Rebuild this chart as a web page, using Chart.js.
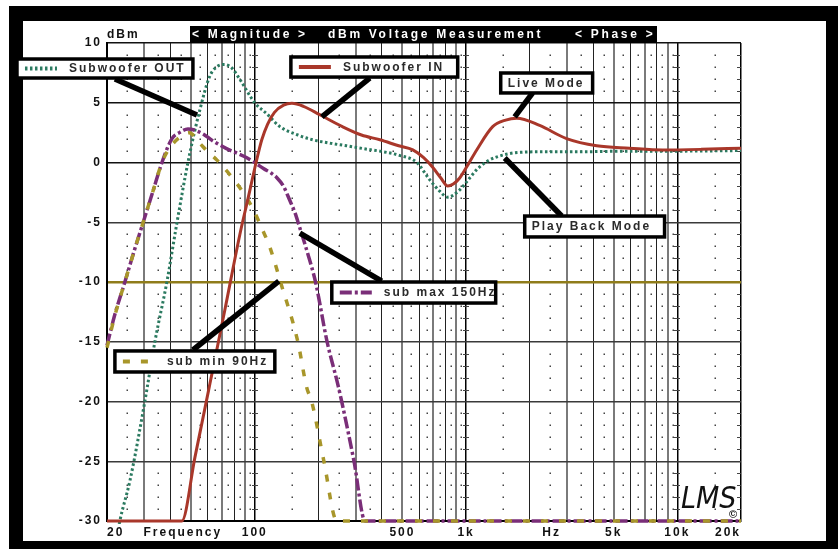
<!DOCTYPE html>
<html>
<head>
<meta charset="utf-8">
<title>dBm Voltage Measurement</title>
<script src="https://cdn.jsdelivr.net/npm/chart.js@4.4.1/dist/chart.umd.min.js"></script>
<style>
    body { margin: 0; background: #fff; }
    #frame { position: absolute; left: 9px; top: 6px; width: 829px; height: 543px; background: #000; }
    #paper { position: absolute; left: 14px; top: 15px; width: 803px; height: 520px; background: #fff; }
    #wrap { position: absolute; left: 0; top: 0; width: 838px; height: 549px; }
</style>
</head>
<body>
<div id="frame"><div id="paper"></div></div>
<div id="wrap"><canvas id="LmsChart"></canvas></div>
<script>
// sweep results, frequency in Hz / level in dBm
var out_freq = [22.2, 23, 25.7, 30.2, 33.7, 38.4, 42.9, 48.3, 55, 61.2, 66, 72, 78, 85.4, 100, 113.7, 131.6, 160, 188, 230, 272, 330, 391, 483, 585, 670, 750, 819, 933, 1030, 1123, 1260, 1389, 1791, 2500, 3471, 6000, 10000, 20000];
var out_db = [-31.5, -30, -26.6, -20, -15, -10, -5, 0, 4.4, 7.2, 8.0, 8.2, 7.9, 6.9, 5.0, 4.1, 3.0, 2.3, 1.9, 1.6, 1.4, 1.15, 0.95, 0.6, 0.0, -1.4, -2.4, -2.9, -2.3, -1.4, -0.6, 0.1, 0.45, 0.85, 0.9, 0.9, 0.95, 0.95, 1.0];

var in_freq = [20, 45.2, 52.1, 61.4, 72.3, 85.1, 93, 101.5, 108, 115, 124, 137, 150, 170, 203, 260, 320, 391, 480, 560, 630, 695, 760, 819, 870, 933, 1020, 1123, 1337, 1540, 1737, 2229, 2990, 4150, 5942, 8514, 13000, 20000];
var in_db = [-30, -30, -24.7, -18.5, -12.3, -6.0, -3.0, 0, 1.9, 3.2, 4.2, 4.8, 4.95, 4.7, 4.0, 3.0, 2.3, 1.9, 1.4, 1.05, 0.4, -0.4, -1.3, -1.97, -1.8, -1.3, -0.2, 1.05, 3.0, 3.55, 3.7, 3.1, 2.0, 1.4, 1.2, 1.05, 1.1, 1.2];

var max_freq = [20, 21.8, 24.3, 27, 29.6, 33, 36.4, 40.6, 44, 48.3, 56.2, 63.5, 72.8, 82, 91.8, 98.9, 110, 120, 127, 137, 146, 155, 163, 178, 194, 220, 246, 258, 295, 333, 20000];
var max_db = [-15.3, -12.7, -10, -7.3, -5.06, -2.4, 0, 2.0, 2.5, 2.8, 2.45, 1.8, 1.2, 0.8, 0.4, 0.05, -0.5, -0.9, -1.25, -2.0, -3.1, -4.2, -5.4, -7.6, -10, -15, -18.4, -20, -25, -30, -30];

var min_freq = [20, 21.8, 24.3, 27, 29.6, 33, 36.4, 39, 44, 49, 55, 60, 66.3, 76.5, 88.1, 98.9, 108, 118, 133, 160, 176, 186, 212, 245, 20000];
var min_db = [-15.5, -12.8, -10, -7.3, -5.06, -2.4, 0, 1.05, 2.1, 2.5, 1.6, 0.9, 0.2, -1.05, -2.5, -4.0, -5.5, -7.1, -10.1, -15, -18.8, -20, -24.9, -30, -30];

// axes
var db_min = -30, db_max = 10, db_step = 5;
var freq_min = 20, freq_max = 20000;
var freq_ticks = [20, 100, 500, 1000, 5000, 10000, 20000];
var freq_labels = ['20', '100', '500', '1k', '5k', '10k', '20k'];
var word_ticks = [45.7, 2540];
var word_labels = ['Frequency', 'Hz'];

var FONT = '"Liberation Sans", Arial, Helvetica, sans-serif';

// 1-2-3..9 grid per decade, and the half steps for the dot rows
var grid_freqs = [];
var dot_freqs = [];
for (let d = 10; d <= 10000; d *= 10) {
    for (let m = 1; m <= 9; m++) {
        if (m * d >= freq_min && m * d <= freq_max) grid_freqs.push(m * d);
        if ((m + 0.5) * d > freq_min && (m + 0.5) * d < freq_max) dot_freqs.push((m + 0.5) * d);
    }
}
var x_tick_values = grid_freqs.concat(word_ticks).sort(function (a, b) { return a - b; });

function toPoints(freqs, dbs) {
    return freqs.map(function (f, i) { return { x: f, y: dbs[i] }; });
}
function isDecade(v) {
    return v === freq_min || v === freq_max || Math.abs(Math.log10(v) % 1) < 1e-9;
}
function mult(v) {
    return Math.round(v / Math.pow(10, Math.floor(Math.log10(v) + 1e-9)));
}

// boxes: [freq left, dB top, freq right, dB bottom], leader: [freq, dB, freq, dB]
var callouts = [
    { text: 'Subwoofer OUT', sample: 3, box: [7.5, 8.66, 51.0, 7.07], leader: [21.8, 6.99, 53.3, 3.97] },
    { text: 'Subwoofer IN', sample: 0, box: [148.3, 8.83, 913, 7.15], leader: [350, 7.07, 207.8, 3.81] },
    { text: 'Live Mode', sample: null, box: [1459, 7.49, 3971, 5.82], leader: [2066, 5.82, 1699, 3.81] },
    { text: 'Play Back Mode', sample: null, box: [1895, -4.48, 8696, -6.23], leader: [1524, 0.38, 2834, -4.48] },
    { text: 'sub max 150Hz', sample: 2, box: [231.6, -10.0, 1381, -11.76], leader: [163.5, -5.9, 399, -9.92] },
    { text: 'sub min 90Hz', sample: 1, box: [21.8, -15.77, 124.5, -17.53], leader: [51.0, -15.69, 130.1, -9.92] }
];

const spacing = {
    id: 'spacing',
    beforeDraw: function (chart) {
        chart.ctx.letterSpacing = '2px';
    }
};

const gridDots = {
    id: 'gridDots',
    beforeDatasetsDraw: function (chart) {
        const ctx = chart.ctx;
        const x = chart.scales.x, y = chart.scales.y;
        ctx.save();
        ctx.fillStyle = '#444';
        for (let db = db_min + 1; db < db_max; db++) {
            if (db % db_step === 0) continue;
            const py = Math.round(y.getPixelForValue(db));
            dot_freqs.forEach(function (f) {
                ctx.fillRect(Math.round(x.getPixelForValue(f)) - 0.5, py - 0.5, 1.5, 1.5);
            });
            [100, 1000, 10000].forEach(function (f) {
                ctx.fillRect(Math.round(x.getPixelForValue(f)) - 3, py, 6, 1);
            });
            ctx.fillRect(Math.round(x.getPixelForValue(freq_max)) - 4, py, 4, 1);
        }
        ctx.restore();
    }
};

const calloutBoxes = {
    id: 'calloutBoxes',
    afterDatasetsDraw: function (chart) {
        const ctx = chart.ctx;
        const x = chart.scales.x, y = chart.scales.y;
        ctx.save();
        // leaders first, boxes sit on their ends
        ctx.strokeStyle = '#000';
        ctx.lineWidth = 5.5;
        ctx.lineCap = 'butt';
        callouts.forEach(function (c) {
            ctx.beginPath();
            ctx.moveTo(x.getPixelForValue(c.leader[0]), y.getPixelForValue(c.leader[1]));
            ctx.lineTo(x.getPixelForValue(c.leader[2]), y.getPixelForValue(c.leader[3]));
            ctx.stroke();
        });
        callouts.forEach(function (c) {
            const x1 = x.getPixelForValue(c.box[0]), y1 = y.getPixelForValue(c.box[1]);
            const x2 = x.getPixelForValue(c.box[2]), y2 = y.getPixelForValue(c.box[3]);
            const cy = (y1 + y2) / 2;
            ctx.fillStyle = '#fff';
            ctx.fillRect(x1, y1, x2 - x1, y2 - y1);
            ctx.strokeStyle = '#000';
            ctx.lineWidth = 3.5;
            ctx.setLineDash([]);
            ctx.strokeRect(x1, y1, x2 - x1, y2 - y1);
            let tx = x1 + 7;
            if (c.sample !== null) {
                const ds = chart.data.datasets[c.sample];
                ctx.strokeStyle = ds.borderColor;
                ctx.lineWidth = 4;
                ctx.setLineDash(ds.borderDash || []);
                ctx.beginPath();
                ctx.moveTo(x1 + 8, cy);
                ctx.lineTo(x1 + 40, cy);
                ctx.stroke();
                ctx.setLineDash([]);
                tx = x1 + 52;
            }
            ctx.fillStyle = '#2a2a2a';
            ctx.font = 'bold 12px ' + FONT;
            ctx.letterSpacing = '2px';
            ctx.textBaseline = 'middle';
            ctx.textAlign = 'left';
            ctx.fillText(c.text, tx, cy + 0.5);
        });
        ctx.restore();
    }
};

const headerBar = {
    id: 'headerBar',
    afterDraw: function (chart) {
        const ctx = chart.ctx;
        const a = chart.chartArea;
        ctx.save();
        ctx.fillStyle = '#000';
        ctx.fillRect(a.left + 83, a.top - 17, 467, 17);
        ctx.fillStyle = '#fff';
        ctx.font = 'bold 12px ' + FONT;
        ctx.letterSpacing = '2.7px';
        ctx.textBaseline = 'middle';
        ctx.textAlign = 'left';
        ctx.fillText('< Magnitude >', a.left + 85, a.top - 8);
        ctx.fillText('dBm Voltage Measurement', a.left + 221, a.top - 8);
        ctx.fillText('< Phase >', a.left + 468, a.top - 8);

        ctx.fillStyle = '#111';
        ctx.letterSpacing = '2px';
        ctx.fillText('dBm', a.left, a.top - 8);

        // maker mark, bottom right
        ctx.letterSpacing = '0px';
        ctx.font = 'italic 30px "DejaVu Sans Condensed", "DejaVu Sans", sans-serif';
        ctx.textBaseline = 'alphabetic';
        ctx.fillText('LMS', a.right - 60, a.bottom - 13);
        ctx.font = 'bold 11px ' + FONT;
        ctx.textBaseline = 'middle';
        ctx.fillText('©', a.right - 12, a.bottom - 6);
        ctx.restore();
    }
};

const ctx = document.getElementById('LmsChart');
const LmsChart = new Chart(ctx, {
    type: 'line',
    data: {
        datasets: [{
            label: 'Subwoofer IN',
            data: toPoints(in_freq, in_db),
            borderColor: '#a9372a',
            borderWidth: 3
        }, {
            label: 'sub min 90Hz',
            data: toPoints(min_freq, min_db),
            borderColor: '#a8962a',
            borderWidth: 3.5,
            borderDash: [7, 11]
        }, {
            label: 'sub max 150Hz',
            data: toPoints(max_freq, max_db),
            borderColor: '#7a2e78',
            borderWidth: 3.5,
            borderDash: [12, 3, 3, 3]
        }, {
            label: 'Subwoofer OUT',
            data: toPoints(out_freq, out_db),
            borderColor: '#2b7a60',
            borderWidth: 3,
            borderDash: [2.5, 2.5]
        }]
    },
    options: {
        responsive: true,
        maintainAspectRatio: false,
        animation: false,
        datasets: {
            line: { clip: 3 }  // let the -30 floor show at full width
        },
        elements: {
            point: { radius: 0 },
            line: { cubicInterpolationMode: 'monotone', fill: false }
        },
        layout: {
            padding: { left: 47, top: 43, right: 97, bottom: 8 }
        },
        plugins: {
            legend: { display: false },
            tooltip: { enabled: false }
        },
        scales: {
            x: {
                type: 'logarithmic',
                min: freq_min,
                max: freq_max,
                afterBuildTicks: function (scale) {
                    scale.ticks = x_tick_values.map(function (v) { return { value: v }; });
                },
                afterFit: function (scale) { scale.height = 20; },
                ticks: {
                    autoSkip: false,
                    maxRotation: 0,
                    minRotation: 0,
                    align: 'inner',
                    padding: 4,
                    color: '#111',
                    font: { family: FONT, size: 12, weight: 'bold' },
                    callback: function (value) {
                        let i = freq_ticks.indexOf(value);
                        if (i >= 0) return freq_labels[i];
                        i = word_ticks.indexOf(value);
                        if (i >= 0) return word_labels[i];
                        return '';
                    }
                },
                grid: {
                    drawTicks: false,
                    color: function (c) {
                        const v = c.tick.value;
                        if (word_ticks.indexOf(v) >= 0) return 'rgba(0,0,0,0)';
                        if (isDecade(v)) return '#000';
                        return mult(v) % 2 ? '#7a7a7a' : '#222';
                    },
                    lineWidth: function (c) {
                        const v = c.tick.value;
                        if (isDecade(v)) return 1.5;
                        return mult(v) % 2 ? 2 : 1;
                    }
                },
                border: { color: '#000', width: 2 }
            },
            y: {
                min: db_min,
                max: db_max,
                afterFit: function (scale) { scale.width = 60; },
                ticks: {
                    stepSize: db_step,
                    padding: 5,
                    color: '#111',
                    font: { family: FONT, size: 12, weight: 'bold' }
                },
                grid: {
                    drawTicks: false,
                    color: function (c) {
                        const v = c.tick.value;
                        if (v === -10) return '#8f7c1a';
                        return v >= 0 ? '#111' : '#3a3a3a';
                    },
                    lineWidth: function (c) {
                        return c.tick.value === -10 ? 2.5 : 1.5;
                    }
                },
                border: { color: '#000', width: 2 }
            }
        }
    },
    plugins: [spacing, gridDots, calloutBoxes, headerBar]
});
</script>
</body>
</html>
